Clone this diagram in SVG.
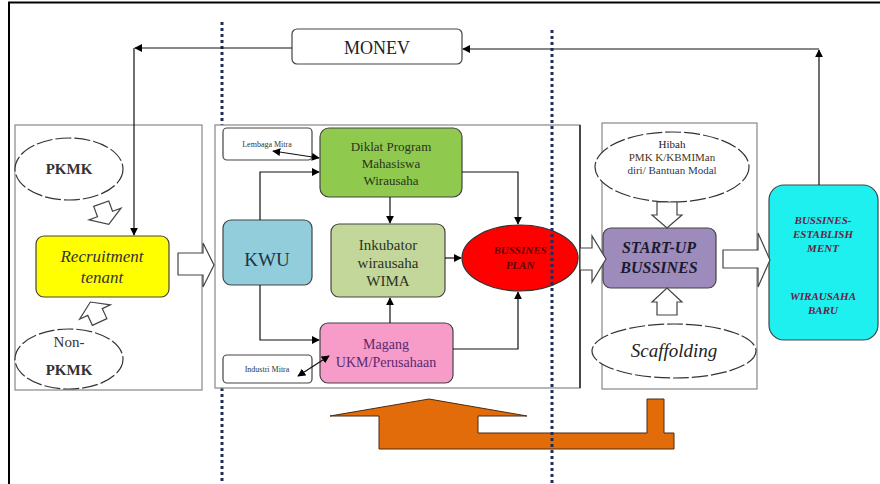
<svg xmlns="http://www.w3.org/2000/svg" width="880" height="484" viewBox="0 0 880 484">
<defs>
<marker id="ah" viewBox="0 0 10 10" refX="9" refY="5" markerWidth="8" markerHeight="8" markerUnits="userSpaceOnUse" orient="auto"><path d="M0,0 L10,5 L0,10 z" fill="#000"/></marker>
<marker id="ahs" viewBox="0 0 10 10" refX="1" refY="5" markerWidth="8" markerHeight="8" markerUnits="userSpaceOnUse" orient="auto"><path d="M10,0 L0,5 L10,10 z" fill="#000"/></marker>
<style>
text{font-family:"Liberation Serif",serif;text-anchor:middle}
.panel{fill:#fff;stroke:#888;stroke-width:1.2}
.box{stroke:#444;stroke-width:1.2}
.ell{fill:#fff;stroke:#333;stroke-width:1.2}
.ln{fill:none;stroke:#111;stroke-width:1.2}
.dot{stroke:#1f2d5a;stroke-width:3;stroke-dasharray:3 3}
.blk{fill:#fff;stroke:#444;stroke-width:1.2}
</style>
</defs>
<rect width="880" height="484" fill="#fff"/>
<path d="M9,484 V2.5 H880" fill="none" stroke="#000" stroke-width="2"/>
<line class="dot" x1="222" y1="22" x2="222" y2="484"/>

<rect class="panel" x="15" y="125" width="187" height="265"/>
<rect class="panel" x="215" y="125" width="365" height="263"/>
<line x1="580" y1="125" x2="580" y2="388" stroke="#222" stroke-width="1.5"/>
<rect class="panel" x="602" y="123" width="155" height="266"/>

<g id="monev"><rect class="box" x="292" y="29" width="170" height="35" rx="5" fill="#fff"/><text x="377" y="54" font-size="18" fill="#222">MONEV</text></g>

<g id="pkmk"><ellipse class="ell" cx="69" cy="169" rx="54" ry="31" stroke-dasharray="16 3"/><text x="69" y="174" font-size="15" font-weight="bold" fill="#333">PKMK</text></g>
<g id="nonpkmk"><ellipse class="ell" cx="69" cy="359" rx="54" ry="30" stroke-dasharray="16 3"/><text x="69" y="347" font-size="15" fill="#333">Non-</text><text x="69" y="375" font-size="15" font-weight="bold" fill="#333">PKMK</text></g>
<g id="recruitment"><rect class="box" x="36" y="236" width="133" height="61" rx="8" fill="#ffff00"/><text x="102" y="262" font-size="17" font-style="italic" fill="#333">Recruitment</text><text x="102" y="283" font-size="17" font-style="italic" fill="#333">tenant</text></g>

<g id="lembaga"><rect class="box" x="223" y="128" width="89" height="32" rx="4" fill="#fff"/><text x="267" y="147" font-size="8" fill="#333">Lembaga Mitra</text></g>
<g id="diklat"><rect class="box" x="320" y="128" width="142" height="69" rx="9" fill="#8fc94e"/><text x="391" y="151" font-size="13" fill="#2a3320">Diklat Program</text><text x="391" y="168" font-size="13" fill="#2a3320">Mahasiswa</text><text x="391" y="185" font-size="13" fill="#2a3320">Wirausaha</text></g>
<g id="kwu"><rect class="box" x="223" y="220" width="89" height="65" rx="8" fill="#92cddc"/><text x="267" y="266" font-size="19" fill="#1f3540">KWU</text></g>
<g id="inkubator"><rect class="box" x="331" y="224" width="114" height="73" rx="8" fill="#c4d79b"/><text x="388" y="250" font-size="15" fill="#2a3320">Inkubator</text><text x="388" y="268" font-size="15" fill="#2a3320">wirausaha</text><text x="388" y="286" font-size="15" fill="#2a3320">WIMA</text></g>
<g id="magang"><rect class="box" x="320" y="323" width="133" height="60" rx="8" fill="#f79cc9"/><text x="386" y="349" font-size="14" fill="#5a2870">Magang</text><text x="386" y="367" font-size="14" fill="#5a2870">UKM/Perusahaan</text></g>
<g id="industri"><rect class="box" x="223" y="355" width="89" height="28" rx="4" fill="#fff"/><text x="267" y="372" font-size="8" fill="#333">Industri Mitra</text></g>
<g id="plan"><ellipse cx="520" cy="258" rx="58" ry="33" fill="#ff0000" stroke="#333" stroke-width="1.2"/><text x="520" y="254" font-size="11" font-weight="bold" font-style="italic" fill="#5a0a0a">BUSSINES</text><text x="520" y="269" font-size="11" font-weight="bold" font-style="italic" fill="#5a0a0a">PLAN</text></g>

<g id="hibah"><ellipse class="ell" cx="672" cy="167" rx="77" ry="35" stroke-dasharray="16 3"/><text x="672" y="148" font-size="11" fill="#222">Hibah</text><text x="672" y="161" font-size="11" fill="#4a3520">PMK K/KBMIMan</text><text x="672" y="174" font-size="11" fill="#2a3a5a">diri/ Bantuan Modal</text></g>
<g id="startup"><rect class="box" x="603" y="228" width="113" height="60" rx="8" fill="#9d8bbb"/><text x="659" y="253" font-size="16" font-weight="bold" font-style="italic" fill="#1a1a30">START-UP</text><text x="659" y="273" font-size="16" font-weight="bold" font-style="italic" fill="#1a1a30">BUSSINES</text></g>
<g id="scaffolding"><ellipse class="ell" cx="674" cy="351" rx="82" ry="27" stroke-dasharray="16 3"/><text x="674" y="357" font-size="19" font-style="italic" fill="#222">Scaffolding</text></g>
<g id="establishment"><rect class="box" x="769" y="185" width="109" height="155" rx="15" fill="#1ef0f0"/><g font-size="11" font-weight="bold" font-style="italic" fill="#6a2040"><text x="823" y="224">BUSSINES-</text><text x="823" y="238">ESTABLISH</text><text x="823" y="252">MENT</text><text x="823" y="300">WIRAUSAHA</text><text x="823" y="314">BARU</text></g></g>

<g id="connectors">
<path class="ln" d="M292,48 H135" marker-end="url(#ah)"/>
<path class="ln" d="M134,48 V235" marker-end="url(#ah)"/>
<path class="ln" d="M819,185 V50" marker-end="url(#ah)"/>
<path class="ln" d="M819,49 H463" marker-end="url(#ah)"/>
<path class="ln" d="M273,151 L319,158" marker-start="url(#ahs)" marker-end="url(#ah)"/>
<path class="ln" d="M260,220 V172 H319" marker-end="url(#ah)"/>
<path class="ln" d="M260,285 V340 H319" marker-end="url(#ah)"/>
<path class="ln" d="M390,197 V223" marker-end="url(#ah)"/>
<path class="ln" d="M390,323 V298" marker-end="url(#ah)"/>
<path class="ln" d="M445,258 H461" marker-end="url(#ah)"/>
<path class="ln" d="M462,172 H518 V224" marker-end="url(#ah)"/>
<path class="ln" d="M453,349 H518 V292" marker-end="url(#ah)"/>
<path class="ln" d="M298,376 L329,356" marker-start="url(#ahs)" marker-end="url(#ah)"/>
<path class="blk" transform="translate(105,214) rotate(-20)" d="M-8,-11 H8 V0 H17 L0,11 L-17,0 H-8 Z"/>
<path class="blk" transform="translate(95,312) rotate(-25)" d="M-8,11 H8 V0 H17 L0,-11 L-17,0 H-8 Z"/>
<path class="blk" d="M178,253 H203 V243 L214,265 L203,287 V275 H178 Z"/>
<path class="blk" d="M580,248 H592 V236 L606,259 L592,282 V270 H580 Z"/>
<path class="blk" d="M657,202 H677 V215 H682 L667,228 L652,215 H657 Z"/>
<path class="blk" d="M657,315 H677 V302 H682 L667,288 L652,302 H657 Z"/>
<path class="blk" d="M723,250 H758 V233 L770,260 L758,287 V268 H723 Z"/>
</g>

<polygon points="330,416 429,399 527,416 478,416 478,433 647,433 647,399 664,399 664,433 674,433 674,449 379,449 379,416" fill="#e36c0a" stroke="#4a2a10" stroke-width="1"/>
<line class="dot" x1="552" y1="30" x2="552" y2="484"/>
</svg>
